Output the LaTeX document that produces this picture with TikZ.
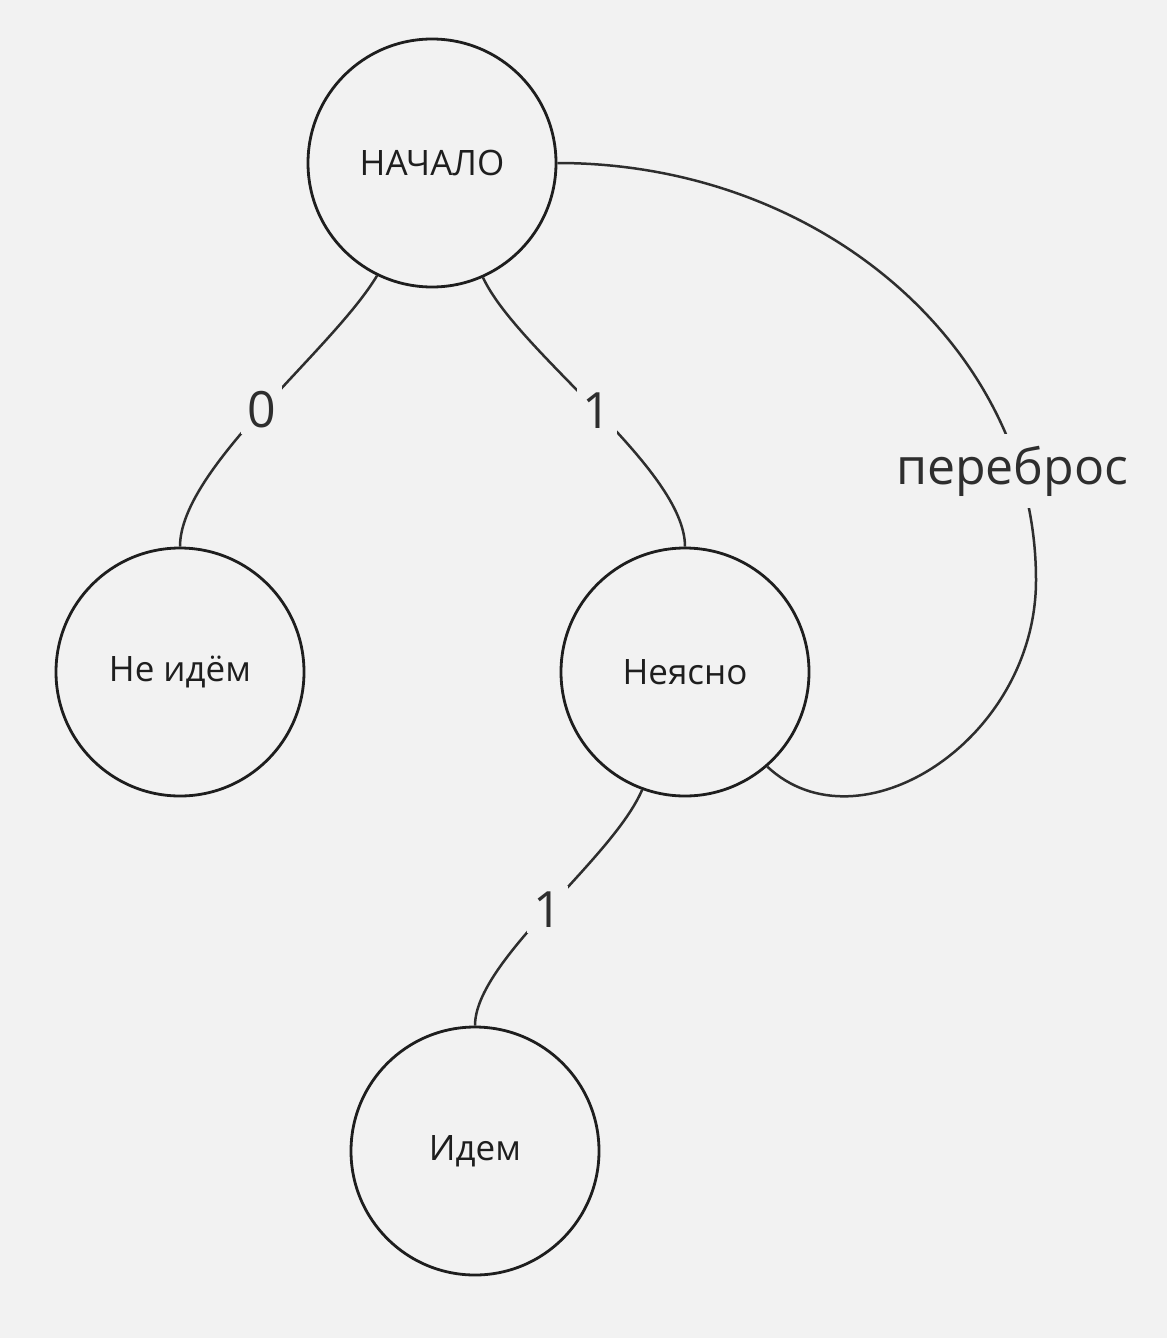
\documentclass[tikz,border=0pt]{standalone}
\usepackage{fontspec}
\setmainfont{Open Sans}
\usepackage{xcolor}
\usepackage{tikz}
\usetikzlibrary{positioning}
\definecolor{bggray}{HTML}{F2F2F2}
\definecolor{inkdark}{HTML}{1E1E1E}
\definecolor{inkedge}{HTML}{2E2E2E}

\begin{document}
\begin{tikzpicture}[x=0.5pt, y=-0.5pt]
      \fill[bggray] (0,0) rectangle (1167,1338);
      \begin{scope}[every node/.style={circle, minimum size = 124pt, inner sep=0pt, line width=1.4pt, draw=inkdark, text=inkdark, font=\fontsize{17.5}{21}\selectfont}]
          \node (S) at (432,163) {НАЧАЛО};
          \node (N0) at (180,672) {Не идём};
          \node (U) at (685,672) {Неясно};
          \node (G) at (475,1151) {Идем};
      \end{scope}
      \coordinate (B) at (1036,580);

      \begin{scope}[draw=inkedge, line width=1.25pt,
                    every node/.style={fill=bggray, text=inkedge, inner sep=3pt, font=\fontsize{25}{30}\selectfont}]
          \draw (S.244) .. controls +(-45,75) and +(0,-78) .. node {0} (N0.north);
          \draw (S.294) .. controls +(35,75) and +(0,-78) .. node {1} (U.north);
          \draw (U.250) .. controls +(-30,70) and +(0,-65) .. node {1} (G.north);
          \draw (S.east) .. controls +(265,0) and +(0,-230) .. node[pos=0.83, inner sep=6pt, xshift=-3pt, yshift=-2pt] {переброс} (B)
                .. controls +(0,160) and +(92,86) .. (U.311);
      \end{scope}
      \end{tikzpicture}
\end{document}
